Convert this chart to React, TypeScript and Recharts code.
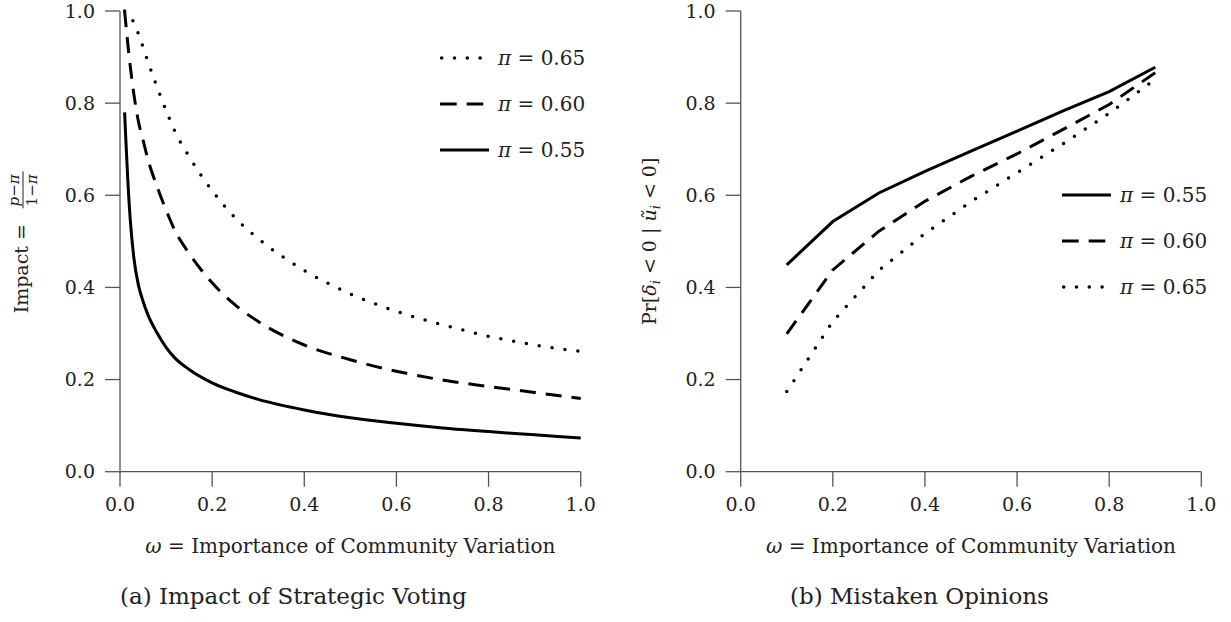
import { LineChart, Line, XAxis, YAxis, Legend, Label } from "recharts";

// (a) impact of strategic voting
const omegaA = [0.01, 0.02, 0.03, 0.04, 0.05, 0.06, 0.08, 0.1, 0.12, 0.15, 0.2, 0.25, 0.3, 0.4, 0.5, 0.6, 0.7, 0.8, 0.9, 1.0];
const impact55 = [0.78, 0.58, 0.465, 0.405, 0.37, 0.342, 0.302, 0.27, 0.246, 0.222, 0.193, 0.173, 0.157, 0.134, 0.117, 0.105, 0.095, 0.087, 0.08, 0.073];
const impact60 = [1.0, 0.9, 0.82, 0.76, 0.72, 0.68, 0.62, 0.568, 0.522, 0.474, 0.41, 0.362, 0.326, 0.275, 0.243, 0.218, 0.199, 0.185, 0.172, 0.159];
const impact65 = [1.0, 0.99, 0.975, 0.95, 0.922, 0.892, 0.836, 0.784, 0.737, 0.684, 0.61, 0.551, 0.506, 0.437, 0.386, 0.348, 0.319, 0.294, 0.275, 0.261];

// (b) mistaken opinions
const omegaB = [0.1, 0.2, 0.3, 0.4, 0.5, 0.6, 0.7, 0.8, 0.9];
const pr55 = [0.449, 0.543, 0.605, 0.652, 0.696, 0.739, 0.783, 0.825, 0.878];
const pr60 = [0.299, 0.438, 0.522, 0.587, 0.641, 0.69, 0.743, 0.797, 0.866];
const pr65 = [0.174, 0.326, 0.437, 0.517, 0.586, 0.649, 0.712, 0.778, 0.852];

const ticks = [0, 0.2, 0.4, 0.6, 0.8, 1.0];
const seriesNames = { p55: "0.55", p60: "0.60", p65: "0.65" };

const dataA = omegaA.map((w, i) => ({ omega: w, p55: impact55[i], p60: impact60[i], p65: impact65[i] }));
const dataB = omegaB.map((w, i) => ({ omega: w, p55: pr55[i], p60: pr60[i], p65: pr65[i] }));

const FONT = '"DejaVu Serif", serif';
const INK = "#222";
const AXIS = "#555";

type Key = "p55" | "p60" | "p65";
const lineStyle: Record<Key, { dash?: string; cap?: "round" | "butt"; w: number }> = {
  p55: { w: 3 },
  p60: { dash: "16 10", cap: "butt", w: 3 },
  p65: { dash: "0 13", cap: "round", w: 3.5 },
};
// legend samples are shorter than the plot lines
const sampleStyle: Record<Key, { x1: number; x2: number; dash?: string; cap?: "round" | "butt"; w: number }> = {
  p55: { x1: 0, x2: 49, w: 3.2 },
  p60: { x1: 0, x2: 43.3, dash: "16.7 10", w: 3.2 },
  p65: { x1: 1.7, x2: 40.2, dash: "0 12.8", cap: "round", w: 3.6 },
};

const tickStyle = { fill: INK, fontSize: 19, fontFamily: FONT };
const axisStroke = { stroke: AXIS, strokeWidth: 1.3 };

function LegendBox({ order }: { order: Key[] }) {
  return (
    <div style={{ fontFamily: FONT, color: INK, fontSize: 20 }}>
      {order.map((k) => {
        const s = sampleStyle[k];
        return (
          <div key={k} style={{ height: 46, display: "flex", alignItems: "center" }}>
            <svg width={50} height={10} style={{ marginRight: 8, overflow: "visible" }}>
              <line x1={s.x1} x2={s.x2} y1={5} y2={5} stroke="#000" strokeWidth={s.w} strokeDasharray={s.dash} strokeLinecap={s.cap ?? "butt"} />
            </svg>
            <span style={{ whiteSpace: "nowrap" }}>
              <i>π</i> = {seriesNames[k]}
            </span>
          </div>
        );
      })}
    </div>
  );
}

function XTitle({ viewBox, caption, captionX }: any) {
  const { x, y, width } = viewBox;
  return (
    <g fontFamily={FONT} fill={INK}>
      <text x={x + width / 2} y={y + 81.3} textAnchor="middle" fontSize={20}>
        <tspan fontStyle="italic">ω</tspan> = Importance of Community Variation
      </text>
      <text x={captionX} y={y + 132.3} fontSize={23}>
        {caption}
      </text>
    </g>
  );
}

function ImpactTitle({ viewBox }: any) {
  const cy = viewBox.y + viewBox.height / 2;
  return (
    <g transform={`translate(28, ${cy}) rotate(-90)`} fontFamily={FONT} fill={INK}>
      <text x={-72} y={0} fontSize={19}>
        Impact =
      </text>
      <text x={51} y={-9} fontSize={15} textAnchor="middle">
        <tspan fontStyle="italic">p</tspan>−<tspan fontStyle="italic">π</tspan>
      </text>
      <line x1={33} x2={70} y1={-5} y2={-5} stroke={INK} strokeWidth={1} />
      <text x={51} y={9} fontSize={15} textAnchor="middle">
        1−<tspan fontStyle="italic">π</tspan>
      </text>
    </g>
  );
}

function PrTitle({ viewBox }: any) {
  const cy = viewBox.y + viewBox.height / 2;
  const cx = 36;
  return (
    <text transform={`rotate(-90, ${cx}, ${cy})`} x={cx} y={cy} textAnchor="middle" fontSize={19} fontFamily={FONT} fill={INK}>
      Pr[<tspan fontStyle="italic">δ</tspan>
      <tspan fontStyle="italic" fontSize={13} dy={4}>i</tspan>
      <tspan dy={-4}> &lt; 0 | </tspan>
      <tspan fontStyle="italic">ũ</tspan>
      <tspan fontStyle="italic" fontSize={13} dy={4}>i</tspan>
      <tspan dy={-4}> &lt; 0]</tspan>
    </text>
  );
}

export default function App() {
  const keys: Key[] = ["p55", "p60", "p65"];
  return (
    <div style={{ position: "absolute", left: 0, top: 0, width: 1231, height: 622, background: "#fff" }}>
      <div style={{ position: "absolute", left: 0, top: 0 }}>
        <LineChart width={600} height={622} data={dataA} margin={{ top: 11, right: 19.3, bottom: 60.3, left: 0 }}>
          <XAxis dataKey="omega" type="number" domain={[0, 1]} ticks={ticks} tickFormatter={(v: number) => v.toFixed(1)} tick={tickStyle} tickSize={15} tickMargin={11} axisLine={axisStroke} tickLine={axisStroke} height={90}>
            <Label content={(p: any) => <XTitle viewBox={p.viewBox} caption="(a) Impact of Strategic Voting" captionX={120} />} />
          </XAxis>
          <YAxis type="number" domain={[0, 1]} ticks={ticks} tickFormatter={(v: number) => v.toFixed(1)} tick={tickStyle} tickSize={15} tickMargin={10} axisLine={axisStroke} tickLine={axisStroke} width={120}>
            <Label content={(p: any) => <ImpactTitle viewBox={p.viewBox} />} />
          </YAxis>
          {keys.map((k) => (
            <Line key={k} dataKey={k} name={`π = ${seriesNames[k]}`} type="monotone" stroke="#000" strokeWidth={lineStyle[k].w} strokeDasharray={lineStyle[k].dash} strokeLinecap={lineStyle[k].cap ?? "butt"} dot={false} activeDot={false} isAnimationActive={false} />
          ))}
          <Legend layout="horizontal" verticalAlign="middle" content={() => <LegendBox order={["p65", "p60", "p55"]} />} wrapperStyle={{ left: 440, top: 35, width: 160 }} />
        </LineChart>
      </div>
      <div style={{ position: "absolute", left: 620, top: 0 }}>
        <LineChart width={611} height={622} data={dataB} margin={{ top: 11, right: 29.7, bottom: 60.3, left: 0 }}>
          <XAxis dataKey="omega" type="number" domain={[0, 1]} ticks={ticks} tickFormatter={(v: number) => v.toFixed(1)} tick={tickStyle} tickSize={15} tickMargin={11} axisLine={axisStroke} tickLine={axisStroke} height={90}>
            <Label content={(p: any) => <XTitle viewBox={p.viewBox} caption="(b) Mistaken Opinions" captionX={170} />} />
          </XAxis>
          <YAxis type="number" domain={[0, 1]} ticks={ticks} tickFormatter={(v: number) => v.toFixed(1)} tick={tickStyle} tickSize={15} tickMargin={10} axisLine={axisStroke} tickLine={axisStroke} width={120.7}>
            <Label content={(p: any) => <PrTitle viewBox={p.viewBox} />} />
          </YAxis>
          {keys.map((k) => (
            <Line key={k} dataKey={k} name={`π = ${seriesNames[k]}`} type="linear" stroke="#000" strokeWidth={lineStyle[k].w} strokeDasharray={lineStyle[k].dash} strokeLinecap={lineStyle[k].cap ?? "butt"} dot={false} activeDot={false} isAnimationActive={false} />
          ))}
          <Legend layout="horizontal" verticalAlign="middle" content={() => <LegendBox order={["p55", "p60", "p65"]} />} wrapperStyle={{ left: 442, top: 172, width: 160 }} />
        </LineChart>
      </div>
    </div>
  );
}
